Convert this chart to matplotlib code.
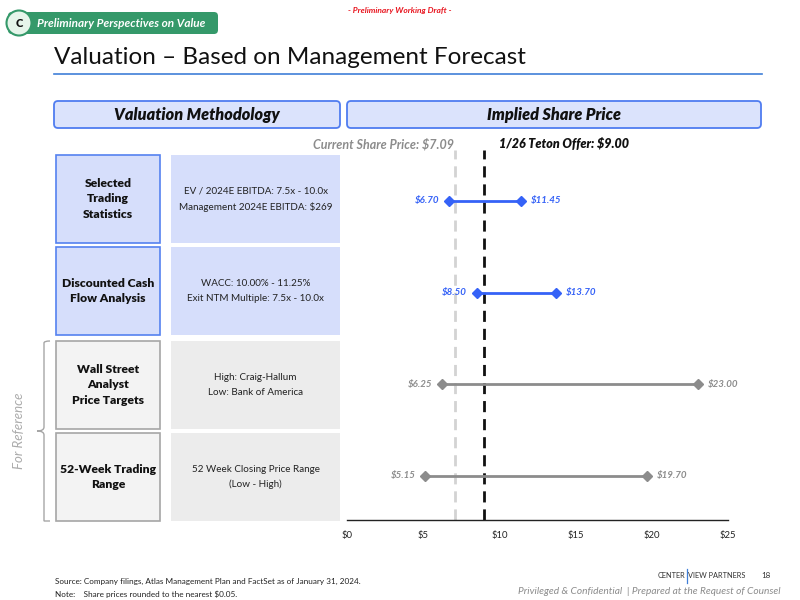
import matplotlib
matplotlib.use("Agg")
import matplotlib.pyplot as plt
from matplotlib.patches import FancyBboxPatch, Rectangle, Circle
from matplotlib.path import Path
from matplotlib.patches import PathPatch

plt.rcParams['font.family'] = ['Lato', 'DejaVu Sans']

# ---- data ----
categories = ["Selected\nTrading\nStatistics", "Discounted Cash\nFlow Analysis",
              "Wall Street\nAnalyst\nPrice Targets", "52-Week Trading\nRange"]
descriptions = ["EV / 2024E EBITDA: 7.5x - 10.0x\nManagement 2024E EBITDA: $269",
                "WACC: 10.00% - 11.25%\nExit NTM Multiple: 7.5x - 10.0x",
                "High: Craig-Hallum\nLow: Bank of America",
                "52 Week Closing Price Range\n(Low - High)"]
low_values = [6.70, 8.50, 6.25, 5.15]
high_values = [11.45, 13.70, 23.00, 19.70]
is_reference = [False, False, True, True]
current_price = 7.09
offer_price = 9.00
x_ticks = [0, 5, 10, 15, 20, 25]
x_tick_labels = ["$0", "$5", "$10", "$15", "$20", "$25"]

BLUE = "#3562f7"
GREY = "#8c8c8c"

fig = plt.figure(figsize=(8, 6), dpi=100)

# overlay axes in pixel coords for decorative layout
ov = fig.add_axes([0, 0, 1, 1])
ov.set_xlim(0, 800)
ov.set_ylim(600, 0)
ov.axis('off')

# green tab
ov.add_patch(FancyBboxPatch((8, 12), 210, 22, boxstyle="round,pad=0,rounding_size=4",
                            fc="#35996a", ec="none"))
ov.add_patch(Circle((19, 23), 12.5, fc="#e6f5ea", ec="#35996a", lw=1.5, zorder=3))
ov.text(19, 23.5, "C", ha='center', va='center', fontsize=8, fontweight='heavy', color='#111', zorder=4)
ov.text(37, 23.5, "Preliminary Perspectives on Value", ha='left', va='center', fontsize=8.5,
        fontweight='bold', style='italic', color='white')
ov.text(400, 10, "- Preliminary Working Draft -", ha='center', va='center', fontsize=6,
        fontweight='bold', style='italic', color='#e8141e')

# title
ov.text(54, 58, "Valuation \u2013 Based on Management Forecast", ha='left', va='center',
        fontsize=17.5, color='#111')
ov.plot([54, 762], [74, 74], color='#3f7fd8', lw=1.2)

# headers
for x0, w, txt in [(54, 286, "Valuation Methodology"), (347, 414, "Implied Share Price")]:
    ov.add_patch(FancyBboxPatch((x0, 101), w, 27, boxstyle="round,pad=0,rounding_size=4",
                                fc="#dbe3fc", ec="#4f7cf0", lw=1.3))
    ov.text(x0 + w / 2, 115, txt, ha='center', va='center', fontsize=11.7,
            fontweight='heavy', style='italic', color='#111')

# row boxes
row_tops = [155, 247, 341, 433]
row_h = 88
for i, top in enumerate(row_tops):
    if is_reference[i]:
        ov.add_patch(Rectangle((56, top), 104, row_h, fc="#f3f3f3", ec="#a6a6a6", lw=1.2))
        ov.add_patch(Rectangle((171, top), 169, row_h, fc="#ececec", ec="none"))
    else:
        ov.add_patch(Rectangle((56, top), 104, row_h, fc="#d6defb", ec="#5582f0", lw=1.2))
        ov.add_patch(Rectangle((171, top), 169, row_h, fc="#d6defb", ec="none"))
    ov.text(108, top + row_h / 2, categories[i], ha='center', va='center', fontsize=8.7,
            fontweight='heavy', color='#111', linespacing=1.5)
    ov.text(255.5, top + row_h / 2, descriptions[i], ha='center', va='center', fontsize=7.1,
            color='#222', linespacing=1.75)

# brace for reference rows
verts = [(50, 341), (44, 341), (44, 343), (44, 343),
         (44, 427), (44, 431), (37, 431),
         (44, 431), (44, 435), (44, 519), (44, 521), (44, 521), (50, 521)]
codes = [Path.MOVETO, Path.CURVE3, Path.CURVE3, Path.LINETO,
         Path.LINETO, Path.CURVE3, Path.CURVE3,
         Path.CURVE3, Path.CURVE3, Path.LINETO, Path.LINETO, Path.CURVE3, Path.CURVE3]
ov.add_patch(PathPatch(Path(verts, codes), fc='none', ec='#a6a6a6', lw=1))
ov.text(19, 431, "For Reference", rotation=90, ha='center', va='center', fontsize=9.5,
        style='italic', color='#ababab')

# footer
ov.text(55, 581, "Source: Company filings, Atlas Management Plan and FactSet as of January 31, 2024.",
        ha='left', va='center', fontsize=5.9, color='#222')
ov.text(55, 594, "Note:    Share prices rounded to the nearest $0.05.",
        ha='left', va='center', fontsize=5.9, color='#222')
ov.text(685, 576, "CENTER", ha='right', va='center', fontsize=5.3, color='#333')
ov.plot([686.5, 686.5], [569, 583], color='#3f7fd8', lw=0.9)
ov.text(688, 576, "VIEW PARTNERS", ha='left', va='center', fontsize=5.3, color='#333')
ov.text(771, 575, "18", ha='right', va='center', fontsize=5.8, color='#333')
ov.text(780, 591, "Privileged & Confidential  | Prepared at the Request of Counsel",
        ha='right', va='center', fontsize=7.3, style='italic', color='#8c8c8c')

# ---- chart axes ----
ax = fig.add_axes([347 / 800, 1 - 520 / 600, (728 - 347) / 800, (520 - 155) / 600])
ax.patch.set_alpha(0)
ax.set_xlim(0, 25)
ax.set_ylim(3.48, -0.5)
for s in ['top', 'right', 'left']:
    ax.spines[s].set_visible(False)
ax.spines['bottom'].set_linewidth(1.0)
ax.spines['bottom'].set_color('#222')
ax.set_yticks([])
ax.set_xticks(x_ticks)
ax.set_xticklabels(x_tick_labels, fontsize=6.8, color='#222')
ax.tick_params(axis='x', length=0, pad=8)

ax.axvline(current_price, ymin=0, ymax=1.015, color='#d3d3d3', lw=2, ls=(0, (4, 2.5)), clip_on=False, zorder=1)
ax.axvline(offer_price, ymin=0, ymax=1.015, color='#111', lw=2, ls=(0, (4, 2.5)), clip_on=False, zorder=2)
ax.text(current_price - 0.1, -0.62, f"Current Share Price: ${current_price:.2f}", ha='right', va='center',
        fontsize=9, fontweight='bold', style='italic', color='#8c8c8c')
ax.text(offer_price + 1.0, -0.62, f"1/26 Teton Offer: ${offer_price:.2f}", ha='left', va='center',
        fontsize=9, fontweight='heavy', style='italic', color='#111')

for i in range(len(categories)):
    c = GREY if is_reference[i] else BLUE
    ax.plot([low_values[i], high_values[i]], [i, i], color=c, lw=2, marker='D', ms=5.5,
            markeredgecolor=c, zorder=3)
    ax.text(low_values[i] - 0.65, i, f"${low_values[i]:.2f}", ha='right', va='center', fontsize=7,
            fontweight='bold', style='italic', color=c)
    ax.text(high_values[i] + 0.65, i, f"${high_values[i]:.2f}", ha='left', va='center', fontsize=7,
            fontweight='bold', style='italic', color=c)

fig.savefig("out.png", dpi=100)
